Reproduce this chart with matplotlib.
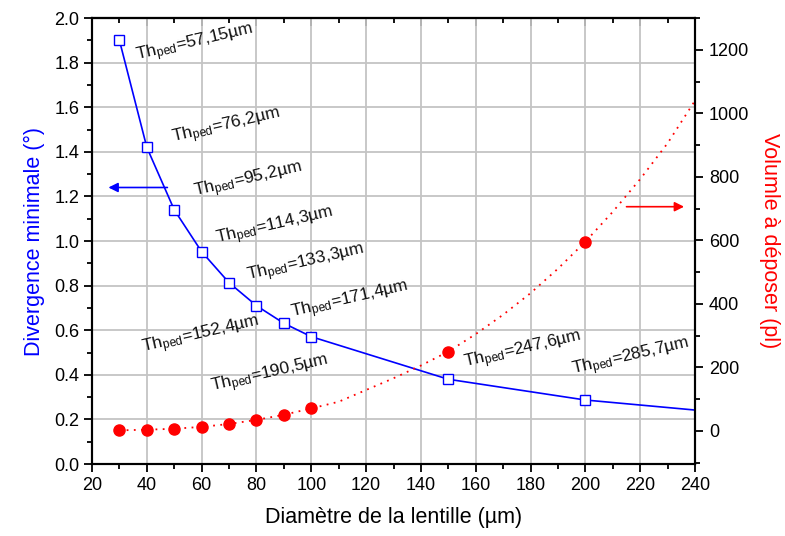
import numpy as np
import matplotlib.pyplot as plt
from matplotlib.ticker import MultipleLocator, FormatStrFormatter

plt.rcParams['font.family'] = ['Liberation Sans', 'DejaVu Sans']
plt.rcParams['mathtext.fontset'] = 'custom'
plt.rcParams['mathtext.rm'] = 'Liberation Sans'
plt.rcParams['mathtext.it'] = 'Liberation Sans'

# Données
diametre = [30, 40, 50, 60, 70, 80, 90, 100, 150, 200]
divergence = [1.90, 1.42, 1.14, 0.952, 0.813, 0.71, 0.631, 0.571, 0.38, 0.287]
volume = [2, 4, 7, 13, 22, 35, 51, 71, 250, 596]

# prolongement des courbes jusqu'à 240 µm
x_div_ligne = diametre + [240]
div_ligne = divergence + [0.242]
x_vol_ligne = [30, 40, 50, 60, 70, 80, 90, 100, 110, 120, 130, 140, 150,
               160, 170, 180, 190, 200, 210, 220, 230, 240]
vol_ligne = [2, 4, 7, 13, 22, 35, 51, 71, 92, 129, 166, 206, 250,
             305, 366, 434, 511, 596, 690, 793, 906, 1040]

etiquettes = ["57,15", "76,2", "95,2", "114,3", "133,3", "171,4",
              "152,4", "190,5", "247,6", "285,7"]
pos_x = [36.4, 49.5, 57.6, 65.7, 76.9, 93.0, 38.6, 63.8, 156.0, 195.5]
pos_y = [1.81, 1.44, 1.20, 0.99, 0.825, 0.655, 0.50, 0.323, 0.435, 0.40]

fig = plt.figure(figsize=(7.85, 5.36), dpi=100)
ax = fig.add_axes([0.1172, 0.1343, 0.7682, 0.8321])
ax2 = ax.twinx()

ax.plot(x_div_ligne, div_ligne, color='blue', lw=1.2, zorder=3)
ax.plot(diametre, divergence, ls='none', marker='s', ms=6.5, mfc='white',
        mec='blue', mew=1.0, zorder=4)

ax2.plot(x_vol_ligne, vol_ligne, color='red', ls=(0, (1, 3)), lw=1.3)
ax2.plot(diametre, volume, ls='none', marker='o', ms=8, color='red')

for lab, xx, yy in zip(etiquettes, pos_x, pos_y):
    ax.text(xx, yy, r"Th$_{\mathrm{ped}}$=" + lab + "µm", rotation=13,
            rotation_mode='anchor', ha='left', va='baseline', fontsize=12.5,
            color='#111111', zorder=5)

ax.annotate("", xy=(26.0, 1.24), xytext=(47.5, 1.24),
            arrowprops=dict(arrowstyle='-|>', color='blue', lw=1.2,
                            mutation_scale=14, shrinkA=0, shrinkB=0))
ax2.annotate("", xy=(236, 706), xytext=(215, 706),
             arrowprops=dict(arrowstyle='-|>', color='red', lw=1.2,
                             mutation_scale=14, shrinkA=0, shrinkB=0))

ax.set_xlim(20, 240)
ax.set_ylim(0, 2.0)
ax2.set_ylim(-104, 1300)

ax.xaxis.set_major_locator(MultipleLocator(20))
ax.xaxis.set_minor_locator(MultipleLocator(10))
ax.yaxis.set_major_locator(MultipleLocator(0.2))
ax.yaxis.set_minor_locator(MultipleLocator(0.1))
ax.yaxis.set_major_formatter(FormatStrFormatter('%.1f'))
ax2.yaxis.set_major_locator(MultipleLocator(200))
ax2.yaxis.set_minor_locator(MultipleLocator(100))

ax.grid(True, which='major', color='#c4c4c4', lw=1.3)
ax.set_axisbelow(True)

for a in (ax, ax2):
    for s in a.spines.values():
        s.set_linewidth(1.5)
ax.tick_params(axis='both', which='major', direction='out', length=6,
               width=1.3, labelsize=13, pad=3)
ax.tick_params(axis='both', which='minor', direction='out', length=3.5,
               width=1.3)
ax.tick_params(axis='x', which='both', top=False)
ax2.tick_params(axis='y', which='major', direction='out', length=6,
                width=1.3, labelsize=13, pad=4)
ax2.tick_params(axis='y', which='minor', direction='out', length=3.5,
                width=1.3)
# graduations du haut vers l'intérieur
sec = ax.secondary_xaxis('top')
sec.xaxis.set_major_locator(MultipleLocator(20))
sec.xaxis.set_minor_locator(MultipleLocator(10))
sec.tick_params(which='major', direction='in', length=6, width=1.3,
                labeltop=False)
sec.tick_params(which='minor', direction='in', length=3.5, width=1.3)
sec.spines['top'].set_linewidth(1.5)

ax.set_xlabel("Diamètre de la lentille (µm)", fontsize=15.5, labelpad=10)
ax.set_ylabel("Divergence minimale (°)", fontsize=15.5, color='blue',
              labelpad=7)
ax2.set_ylabel("Volumle à déposer (pl)", fontsize=15.5, color='red',
               rotation=-90, labelpad=22)

fig.savefig("out.png", dpi=100)
